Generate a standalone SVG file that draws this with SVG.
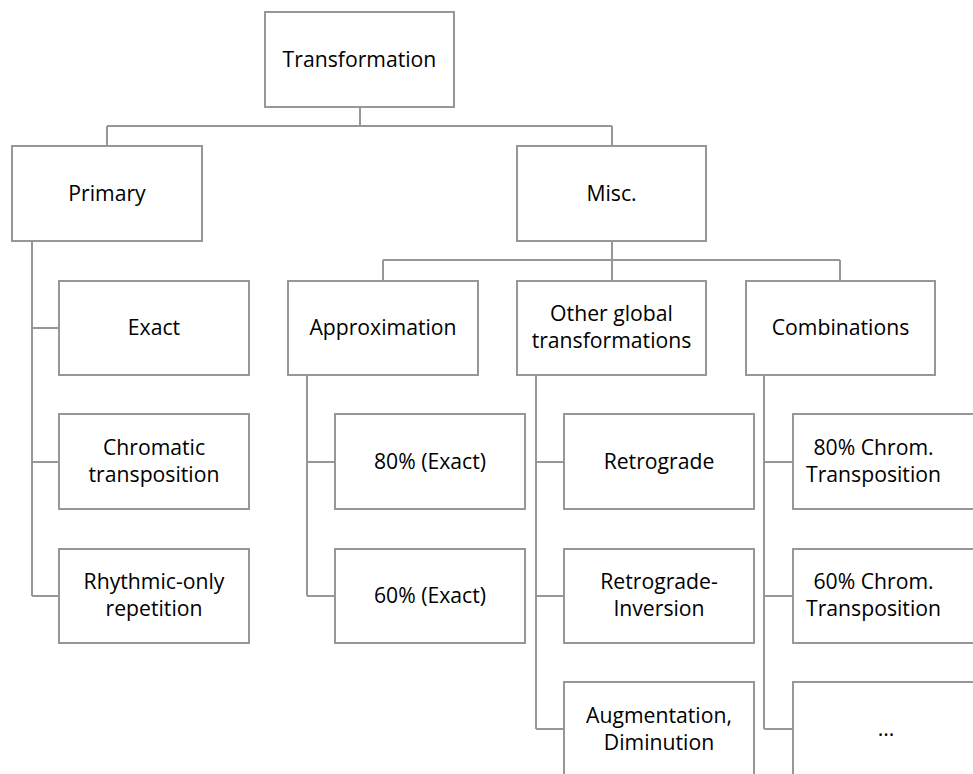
<svg xmlns="http://www.w3.org/2000/svg" width="973" height="774" viewBox="0 0 973 774">
<style>
.box{fill:#fff;stroke:#979797;stroke-width:2}
.con{fill:none;stroke:#979797;stroke-width:2}
text{font-family:"Open Sans","Noto Sans","Liberation Sans",sans-serif;font-size:21.2px;fill:#000;text-anchor:middle}
</style>
<rect width="973" height="774" fill="#fff"/>
<g id="connectors">
<path class="con" d="M360 107V126M107 126H612M107 126V146M612 126V146"/>
<path class="con" d="M32 241V596M32 328H59M32 462H59M32 596H59"/>
<path class="con" d="M612 241V260M383 260H840M383 260V281M612 260V281M840 260V281"/>
<path class="con" d="M307 375V596M307 462H335M307 596H335"/>
<path class="con" d="M536 375V729M536 462H564M536 596H564M536 729H564"/>
<path class="con" d="M764 375V729M764 462H793M764 596H793M764 729H793"/>
</g>
<g id="transformation"><rect class="box" x="265" y="12" width="189" height="95"/><text x="359.5" y="66.5">Transformation</text></g>
<g id="primary"><rect class="box" x="12" y="146" width="190" height="95"/><text x="107" y="200.5">Primary</text></g>
<g id="misc"><rect class="box" x="517" y="146" width="189" height="95"/><text x="611.5" y="200.5">Misc.</text></g>
<g id="exact"><rect class="box" x="59" y="281" width="190" height="94"/><text x="154" y="335">Exact</text></g>
<g id="chromatic"><rect class="box" x="59" y="414" width="190" height="95"/><text x="154" y="454.5">Chromatic</text><text x="154" y="482">transposition</text></g>
<g id="rhythmic"><rect class="box" x="59" y="549" width="190" height="94"/><text x="154" y="588.5">Rhythmic-only</text><text x="154" y="616">repetition</text></g>
<g id="approximation"><rect class="box" x="288" y="281" width="190" height="94"/><text x="383" y="335">Approximation</text></g>
<g id="other"><rect class="box" x="517" y="281" width="189" height="94"/><text x="611.5" y="320.5">Other global</text><text x="611.5" y="348">transformations</text></g>
<g id="combinations"><rect class="box" x="746" y="281" width="189" height="94"/><text x="840.5" y="335">Combinations</text></g>
<g id="p80exact"><rect class="box" x="335" y="414" width="190" height="95"/><text x="430" y="468.5">80% (Exact)</text></g>
<g id="p60exact"><rect class="box" x="335" y="549" width="190" height="94"/><text x="430" y="602.5">60% (Exact)</text></g>
<g id="retrograde"><rect class="box" x="564" y="414" width="190" height="95"/><text x="659" y="468.5">Retrograde</text></g>
<g id="retroinv"><rect class="box" x="564" y="549" width="190" height="94"/><text x="659" y="588.5">Retrograde-</text><text x="659" y="616">Inversion</text></g>
<g id="augmentation"><rect class="box" x="564" y="682" width="190" height="95"/><text x="659" y="722.5">Augmentation,</text><text x="659" y="750">Diminution</text></g>
<g id="c80"><rect class="box" x="793" y="414" width="190" height="95"/><text x="873.5" y="454.5">80% Chrom.</text><text x="873.5" y="482">Transposition</text></g>
<g id="c60"><rect class="box" x="793" y="549" width="190" height="94"/><text x="873.5" y="588.5">60% Chrom.</text><text x="873.5" y="616">Transposition</text></g>
<g id="cmore"><rect class="box" x="793" y="682" width="190" height="95"/><text x="886" y="736">...</text></g>
</svg>
